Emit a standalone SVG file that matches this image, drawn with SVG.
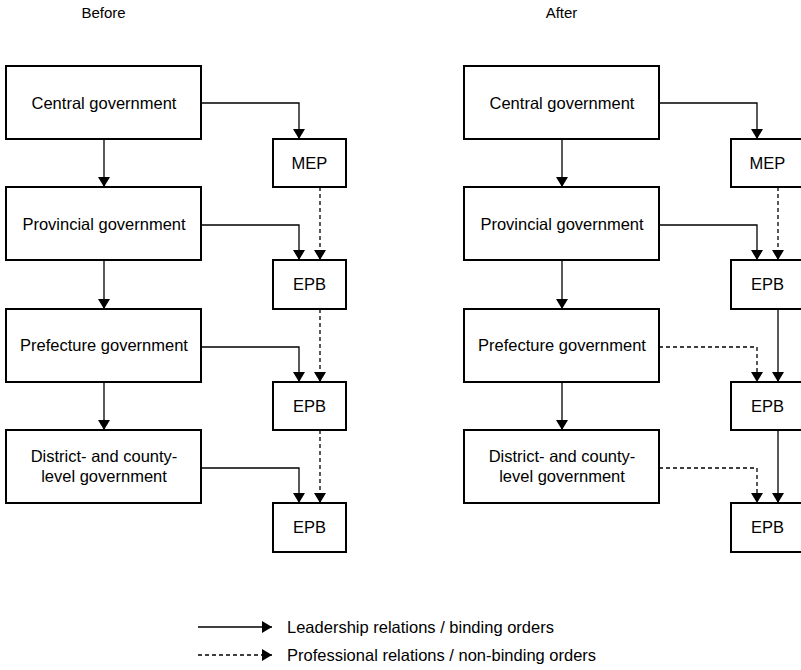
<svg xmlns="http://www.w3.org/2000/svg" width="801" height="670" viewBox="0 0 801 670">
<style>
.box{fill:#fff;stroke:#000;stroke-width:2}
.t{font-family:"Liberation Sans",Arial,sans-serif;font-size:16.5px;fill:#000;text-anchor:middle;dominant-baseline:central}
.h{font-family:"Liberation Sans",Arial,sans-serif;font-size:15px;fill:#000;text-anchor:middle}
.lg{font-family:"Liberation Sans",Arial,sans-serif;font-size:16.5px;fill:#000;dominant-baseline:central}
.s{fill:none;stroke:#000;stroke-width:1.3;marker-end:url(#ah)}
.d{fill:none;stroke:#000;stroke-width:1.3;stroke-dasharray:4,3;marker-end:url(#ah)}
</style>
<defs>
<marker id="ah" viewBox="0 0 10 12" refX="10" refY="6" markerWidth="10" markerHeight="12" markerUnits="userSpaceOnUse" orient="auto">
<path d="M0,0 L10,6 L0,12 Z" fill="#000"/>
</marker>
</defs>
<rect width="801" height="670" fill="#fff"/>
<text class="h" x="103.5" y="18">Before</text>
<text class="h" x="561.5" y="18">After</text>

<g id="connectors">
<path class="s" d="M104,139 V187"/>
<path class="s" d="M104,260 V309"/>
<path class="s" d="M104,382 V430"/>
<path class="s" d="M201,103 H299 V139"/>
<path class="s" d="M201,225 H299 V260"/>
<path class="s" d="M201,347 H299 V382"/>
<path class="s" d="M201,468 H299 V503"/>
<path class="d" d="M320,187 V260"/>
<path class="d" d="M320,309 V382"/>
<path class="d" d="M320,430 V503"/>
<path class="s" d="M562,139 V187"/>
<path class="s" d="M562,260 V309"/>
<path class="s" d="M562,382 V430"/>
<path class="s" d="M659,103 H757 V139"/>
<path class="s" d="M659,225 H757 V260"/>
<path class="d" d="M659,347 H757 V382"/>
<path class="d" d="M659,468 H757 V503"/>
<path class="d" d="M778,187 V260"/>
<path class="s" d="M778,309 V382"/>
<path class="s" d="M778,430 V503"/>
<path class="s" d="M198,627 H272"/>
<path class="d" d="M198,655 H272"/>
</g>

<g id="b-central"><rect class="box" x="6" y="66" width="195" height="73"/><text class="t" x="104" y="103">Central government</text></g>
<g id="b-mep"><rect class="box" x="273" y="139" width="73" height="48"/><text class="t" x="309.5" y="163">MEP</text></g>
<g id="b-prov"><rect class="box" x="6" y="187" width="195" height="73"/><text class="t" x="104" y="224">Provincial government</text></g>
<g id="b-epb1"><rect class="box" x="273" y="260" width="73" height="49"/><text class="t" x="309.5" y="284">EPB</text></g>
<g id="b-pref"><rect class="box" x="6" y="309" width="195" height="73"/><text class="t" x="104" y="345">Prefecture government</text></g>
<g id="b-epb2"><rect class="box" x="273" y="382" width="73" height="48"/><text class="t" x="309.5" y="406">EPB</text></g>
<g id="b-dist"><rect class="box" x="6" y="430" width="195" height="73"/><text class="t" x="104" y="456">District- and county-</text><text class="t" x="104" y="476">level government</text></g>
<g id="b-epb3"><rect class="box" x="273" y="503" width="73" height="49"/><text class="t" x="309.5" y="527">EPB</text></g>

<g id="a-central"><rect class="box" x="464" y="66" width="195" height="73"/><text class="t" x="562" y="103">Central government</text></g>
<g id="a-mep"><rect class="box" x="731" y="139" width="73" height="48"/><text class="t" x="767.5" y="163">MEP</text></g>
<g id="a-prov"><rect class="box" x="464" y="187" width="195" height="73"/><text class="t" x="562" y="224">Provincial government</text></g>
<g id="a-epb1"><rect class="box" x="731" y="260" width="73" height="49"/><text class="t" x="767.5" y="284">EPB</text></g>
<g id="a-pref"><rect class="box" x="464" y="309" width="195" height="73"/><text class="t" x="562" y="345">Prefecture government</text></g>
<g id="a-epb2"><rect class="box" x="731" y="382" width="73" height="48"/><text class="t" x="767.5" y="406">EPB</text></g>
<g id="a-dist"><rect class="box" x="464" y="430" width="195" height="73"/><text class="t" x="562" y="456">District- and county-</text><text class="t" x="562" y="476">level government</text></g>
<g id="a-epb3"><rect class="box" x="731" y="503" width="73" height="49"/><text class="t" x="767.5" y="527">EPB</text></g>

<g id="legend">
<text class="lg" x="287" y="627">Leadership relations / binding orders</text>
<text class="lg" x="287" y="655">Professional relations / non-binding orders</text>
</g>
</svg>
